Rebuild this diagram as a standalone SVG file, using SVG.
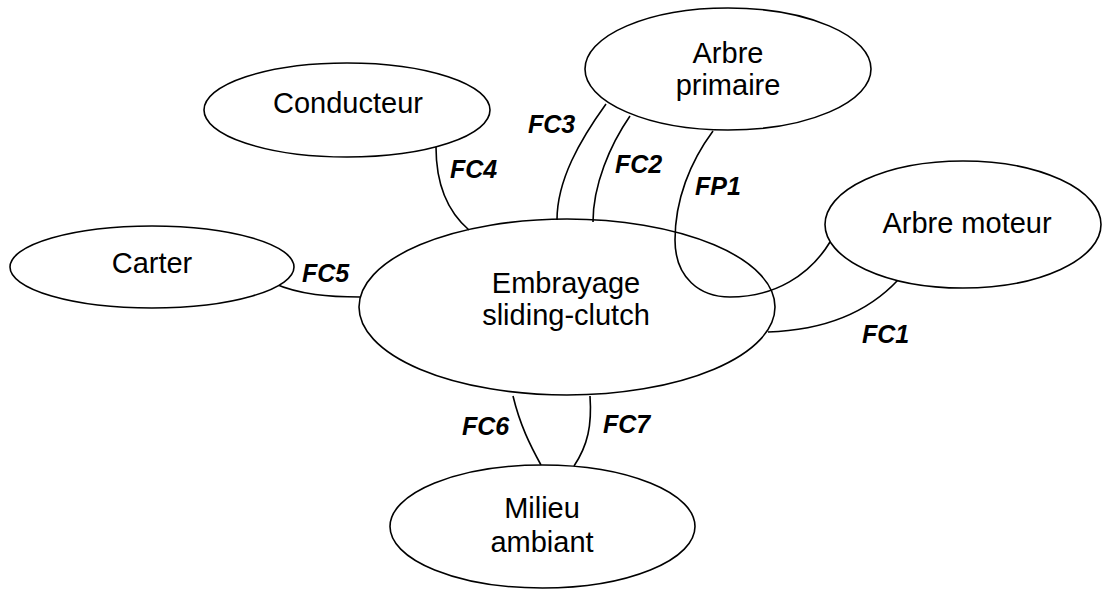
<svg xmlns="http://www.w3.org/2000/svg" width="1102" height="590" viewBox="0 0 1102 590">
<style>
.n{fill:#fff;stroke:#000;stroke-width:1.6}
.t{font-family:"Liberation Sans",Arial,sans-serif;font-size:29px;fill:#000;text-anchor:middle}
.c{fill:none;stroke:#000;stroke-width:1.6}
.l{font-family:"Liberation Sans",Arial,sans-serif;font-size:25px;font-weight:bold;font-style:italic;fill:#000}
</style>
<rect width="1102" height="590" fill="#fff"/>
<g id="connectors">
<path class="c" d="M606,104 C580,140 557,180 557,220"/>
<path class="c" d="M630,116 C610,145 593,185 593,222"/>
<path class="c" d="M713,131 C690,162 675,200 675,240 C675,278 700,297 730,297 C775,297 810,275 830,242"/>
<path class="c" d="M768,332 C830,330 870,310 898,280"/>
<path class="c" d="M436,147 C436,185 448,212 469,230"/>
<path class="c" d="M273,283 C300,295 330,297 360,297"/>
<path class="c" d="M513,396 C520,425 530,445 541,465"/>
<path class="c" d="M590,396 C592,425 588,445 574,466"/>
</g>
<g id="labels">
<text class="l" x="528" y="133">FC3</text>
<text class="l" x="615" y="173">FC2</text>
<text class="l" x="695" y="195">FP1</text>
<text class="l" x="862" y="343">FC1</text>
<text class="l" x="450" y="178">FC4</text>
<text class="l" x="302" y="282">FC5</text>
<text class="l" x="462" y="435">FC6</text>
<text class="l" x="603" y="433">FC7</text>
</g>
<g id="arbre-primaire">
<ellipse class="n" cx="728" cy="69" rx="143" ry="61"/>
<text class="t" x="728" y="63">Arbre</text>
<text class="t" x="728" y="95">primaire</text>
</g>
<g id="conducteur">
<ellipse class="n" cx="347" cy="110" rx="143" ry="47"/>
<text class="t" x="348" y="113">Conducteur</text>
</g>
<g id="carter">
<ellipse class="n" cx="152" cy="267" rx="142" ry="41"/>
<text class="t" x="152" y="273">Carter</text>
</g>
<g id="arbre-moteur">
<ellipse class="n" cx="963" cy="224.5" rx="138" ry="63.5"/>
<text class="t" x="967" y="233">Arbre moteur</text>
</g>
<g id="embrayage">
<ellipse class="n" cx="567" cy="307" rx="208" ry="88" fill-opacity="0"/>
<text class="t" x="566" y="293">Embrayage</text>
<text class="t" x="566" y="325">sliding-clutch</text>
</g>
<g id="milieu-ambiant">
<ellipse class="n" cx="542.5" cy="526.5" rx="152.5" ry="61.5"/>
<text class="t" x="542" y="518">Milieu</text>
<text class="t" x="542" y="552">ambiant</text>
</g>
</svg>
